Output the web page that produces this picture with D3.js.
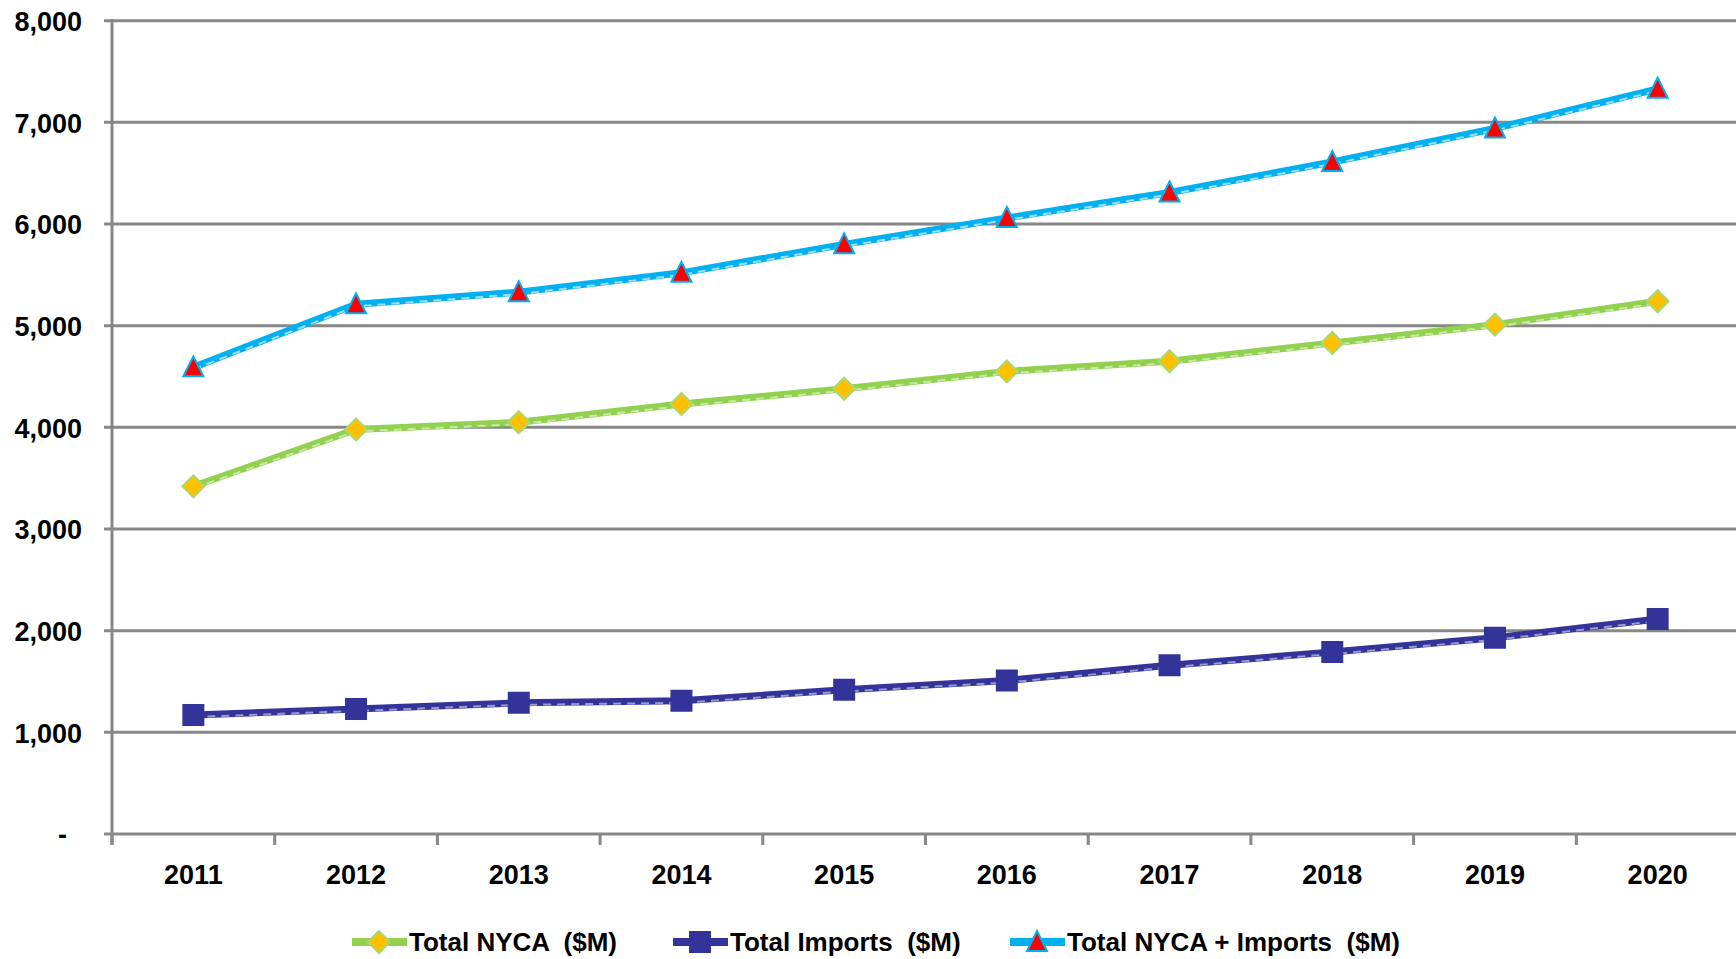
<!DOCTYPE html>
<html><head><meta charset="utf-8">
<script src="https://cdn.jsdelivr.net/npm/d3@7"></script>
<style>
body{margin:0;background:#fff;}
svg text{font-family:"Liberation Sans",Arial,sans-serif;font-weight:bold;fill:#000;}
</style></head>
<body>
<svg id="c" width="1736" height="959"></svg>
<script>
const years = ["2011","2012","2013","2014","2015","2016","2017","2018","2019","2020"];
const nyca = [3420,3980,4050,4230,4380,4550,4650,4830,5010,5240];
const imports = [1170,1230,1290,1310,1420,1510,1660,1790,1930,2115];
const total = [4590,5210,5330,5520,5800,6060,6310,6610,6940,7330];
const yTicks = [0,1000,2000,3000,4000,5000,6000,7000,8000];
const seriesNames = ["Total NYCA  ($M)","Total Imports  ($M)","Total NYCA + Imports  ($M)"];

const svg = d3.select("#c");
const x = d3.scaleBand().domain(years).range([112,1739]).padding(0);
const y = d3.scaleLinear().domain([0,8000]).range([834,20.7]);
const grid = "#878787";

// gridlines
svg.append("g").selectAll("line").data(yTicks).join("line")
  .attr("x1",104).attr("x2",1736).attr("y1",d=>y(d)).attr("y2",d=>y(d))
  .attr("stroke",grid).attr("stroke-width",3);
// y axis
const ya = svg.append("g").attr("transform","translate(112,0)")
  .call(d3.axisLeft(y).tickValues(yTicks).tickSize(0).tickPadding(30)
  .tickFormat(d=>d===0?"-":d3.format(",")(d)));
ya.select(".domain").remove();
ya.selectAll("text").attr("font-size",27).attr("dy","0.36em")
  .attr("dx",d=>d===0?-15:0);
svg.append("line").attr("x1",112).attr("x2",112).attr("y1",y(8000)-1.5).attr("y2",845)
  .attr("stroke",grid).attr("stroke-width",3);
// x boundary ticks
const bounds = years.map(d=>x(d)).concat([x(years[years.length-1])+x.bandwidth()]);
svg.append("g").selectAll("line").data(bounds).join("line")
  .attr("x1",d=>d).attr("x2",d=>d).attr("y1",834).attr("y2",845)
  .attr("stroke",grid).attr("stroke-width",3);
const xa = svg.append("g").attr("transform","translate(0,834)")
  .call(d3.axisBottom(x).tickSize(0).tickPadding(31));
xa.select(".domain").remove();
xa.selectAll("text").attr("font-size",27);

const cx = d=>x(d)+x.bandwidth()/2;

const diamond = s=>`M0,${-s}L${s},0L0,${s}L${-s},0Z`;
const square = s=>`M${-s},${-s}H${s}V${s}H${-s}Z`;
const tri = s=>`M0,${-s*1.1}L${s},${s*0.9}H${-s}Z`;

const series = [
  {vals:nyca, color:"#92D050", light:"#C9E8A6", shape:diamond, size:11, fill:"#FFC000", stroke:"#A9D86E"},
  {vals:imports, color:"#333399", light:"#9A9ACC", shape:square, size:10, fill:"#333399", stroke:"#333399"},
  {vals:total, color:"#00B0F0", light:"#9EDDF6", shape:tri, size:10, fill:"#FF0000", stroke:"#00B0F0"}
];
const line = d3.line().x(d=>cx(d[0])).y(d=>y(d[1]));
series.forEach(s=>{
  const pts = years.map((yr,i)=>[yr,s.vals[i]]);
  svg.append("path").attr("d",line(pts)).attr("fill","none")
    .attr("stroke",s.color).attr("stroke-width",7).attr("stroke-linejoin","round");
  svg.append("path").attr("d",line(pts)).attr("fill","none").attr("transform","translate(0,2)")
    .attr("stroke",s.light).attr("stroke-width",2).attr("stroke-dasharray","8,6");
  svg.append("g").selectAll("path").data(pts).join("path")
    .attr("transform",d=>`translate(${cx(d[0])},${y(d[1])})`)
    .attr("d",s.shape(s.size)).attr("fill",s.fill)
    .attr("stroke",s.stroke).attr("stroke-width",2);
});

// legend
const legX = [352,673,1010];
const leg = svg.append("g");
series.forEach((s,i)=>{
  const g = leg.append("g").attr("transform",`translate(${legX[i]},942)`);
  g.append("line").attr("x1",0).attr("x2",55).attr("stroke",s.color).attr("stroke-width",8);
  g.append("path").attr("transform","translate(27,0)").attr("d",s.shape(s.size)).attr("fill",s.fill)
    .attr("stroke",s.stroke).attr("stroke-width",2);
  g.append("text").attr("x",57).attr("dy","0.36em").attr("font-size",26)
    .attr("xml:space","preserve").style("white-space","pre").text(seriesNames[i]);
});
</script>
</body></html>
